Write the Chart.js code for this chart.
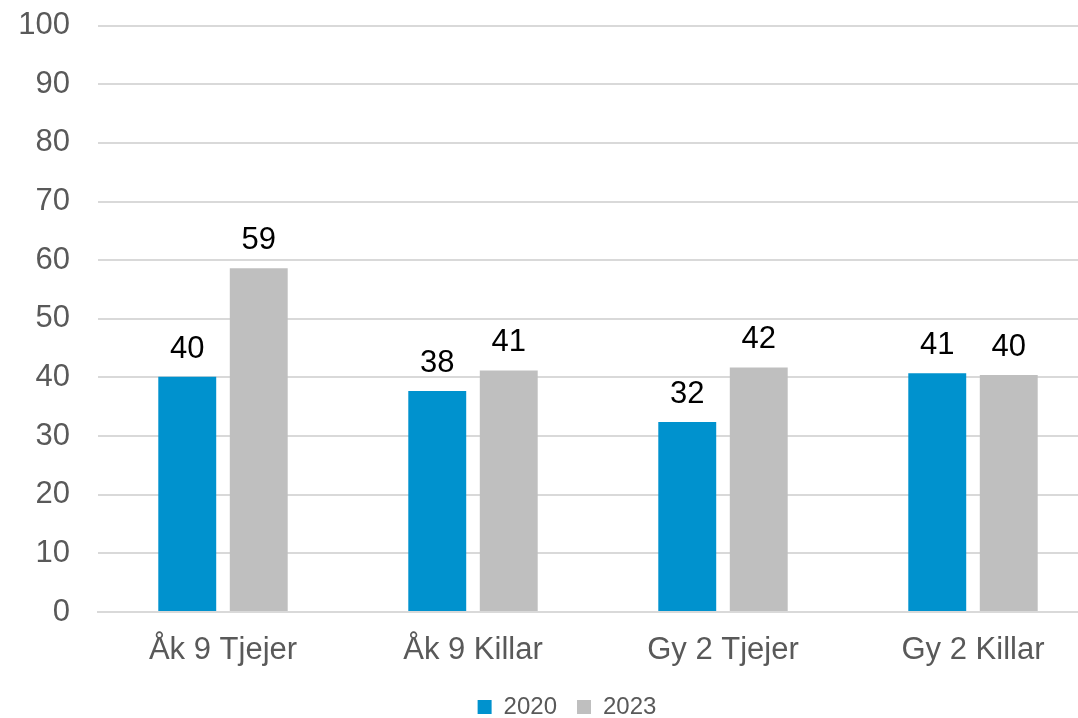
<!DOCTYPE html>
<html>
<head>
<meta charset="utf-8">
<script src="https://cdn.jsdelivr.net/npm/chart.js@4/dist/chart.umd.min.js"></script>
<style>
	html, body { margin: 0; padding: 0; background: #fff; overflow: hidden; }
	/* the original plot area is cropped on the right and top */
	#wrap { width: 1098px; height: 739px; margin-top: -21px; }
</style>
</head>
<body>
<div id="wrap"><canvas id="chart"></canvas></div>
<script>
	// data
	var categories = [ 'Åk 9 Tjejer', 'Åk 9 Killar', 'Gy 2 Tjejer', 'Gy 2 Killar' ];
	var values2020 = [ 40.1, 37.7, 32.4, 40.7 ];
	var values2023 = [ 58.6, 41.2, 41.7, 40.4 ];
	var yTicks = [ 0, 10, 20, 30, 40, 50, 60, 70, 80, 90, 100 ];

	var fontFamily = "'Liberation Sans', Arial, sans-serif";

	/**
	 * Draw value labels above the bars.
	 */
	var valueLabels = {
		id: 'valueLabels',
		afterDatasetsDraw: function( chart ) {
			var ctx = chart.ctx;

			ctx.save();
			ctx.font = '31px ' + fontFamily;
			ctx.fillStyle = '#000';
			ctx.textAlign = 'center';
			ctx.textBaseline = 'alphabetic';

			chart.data.datasets.forEach( function( dataset, i ) {
				var meta = chart.getDatasetMeta( i );

				meta.data.forEach( function( bar, j ) {
					ctx.fillText( Math.round( dataset.data[j] ), bar.x, bar.y - 19 );
				} );
			} );

			ctx.restore();
		}
	};

	/**
	 * Keep the legend short and nudge it, like the original.
	 */
	var legendPlacement = {
		id: 'legendPlacement',
		beforeLayout: function( chart ) {
			var legend = chart.legend;

			if ( legend && ! legend._fitPatched ) {
				var fit = legend.fit;

				legend.fit = function() {
					fit.call( this );
					this.height = 46;
				};
				legend._fitPatched = true;
			}
		},
		afterLayout: function( chart ) {
			chart.legend.left += 18;
			chart.legend.right += 18;
			chart.legend.top += 3;
			chart.legend.bottom += 3;
		}
	};

	new Chart( document.getElementById( 'chart' ).getContext( '2d' ), {
		type: 'bar',
		data: {
			labels: categories,
			datasets: [
				{ label: '2020', data: values2020, backgroundColor: '#0092CE' },
				{ label: '2023', data: values2023, backgroundColor: '#BFBFBF' }
			]
		},
		options: {
			responsive: true,
			maintainAspectRatio: false,
			animation: false,
			categoryPercentage: 0.572,
			barPercentage: 0.81,
			layout: {
				padding: 0
			},
			plugins: {
				tooltip: { enabled: false },
				legend: {
					position: 'bottom',
					labels: {
						boxWidth: 14,
						boxHeight: 14,
						padding: 20,
						color: '#595959',
						font: { size: 24, family: fontFamily }
					}
				}
			},
			scales: {
				x: {
					afterFit: function( scale ) {
						scale.height = 60;
					},
					grid: { display: false },
					border: { color: '#D9D9D9', width: 2 },
					ticks: {
						color: '#595959',
						padding: 12,
						font: { size: 31, family: fontFamily }
					}
				},
				y: {
					min: 0,
					max: 100,
					afterFit: function( scale ) {
						scale.width = 98;
					},
					afterBuildTicks: function( scale ) {
						scale.ticks = yTicks.map( function( v ) { return { value: v }; } );
					},
					grid: { color: '#D9D9D9', lineWidth: 2, drawTicks: false },
					border: { display: false },
					ticks: {
						color: '#595959',
						padding: 28,
						font: { size: 31, family: fontFamily }
					}
				}
			}
		},
		plugins: [ valueLabels, legendPlacement ]
	} );
</script>
</body>
</html>
